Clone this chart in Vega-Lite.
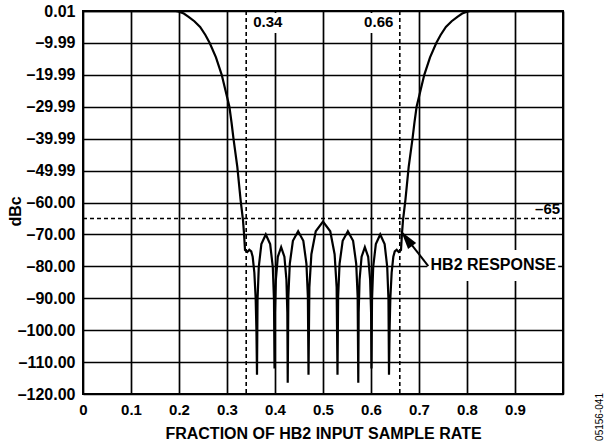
{
  "$schema": "https://vega.github.io/schema/vega-lite/v6.json",
  "width": 480,
  "height": 383,
  "autosize": {"type": "none"},
  "padding": {"left": 83, "top": 11, "right": 44, "bottom": 51},
  "background": "white",
  "config": {
    "font": "Liberation Sans",
    "view": {"stroke": "black", "strokeWidth": 2},
    "axis": {
      "grid": true,
      "gridColor": "black",
      "gridWidth": 1.7,
      "gridOpacity": 1,
      "domain": false,
      "ticks": false,
      "labelFont": "Liberation Sans",
      "labelFontWeight": "bold",
      "labelFontSize": 15,
      "labelColor": "black",
      "labelPadding": 8,
      "labelOverlap": false,
      "labelBound": false,
      "labelFlush": false,
      "titleFont": "Liberation Sans",
      "titleFontWeight": "bold",
      "titleFontSize": 16,
      "titleColor": "black"
    }
  },
  "datasets": {
    "curve": [
      {"x": 0, "y": 0}, {"x": 0.19, "y": 0}, {"x": 0.2, "y": -0.2}, {"x": 0.21, "y": -0.8},
      {"x": 0.22, "y": -1.8}, {"x": 0.232, "y": -3.2}, {"x": 0.244, "y": -5}, {"x": 0.255, "y": -7.5},
      {"x": 0.264, "y": -10}, {"x": 0.277, "y": -14.5}, {"x": 0.289, "y": -20}, {"x": 0.297, "y": -25},
      {"x": 0.305, "y": -30}, {"x": 0.3095, "y": -35}, {"x": 0.3135, "y": -40}, {"x": 0.3215, "y": -48.8},
      {"x": 0.3283, "y": -59.2}, {"x": 0.3333, "y": -65.5}, {"x": 0.3354, "y": -69.6}, {"x": 0.3375, "y": -74.9},
      {"x": 0.3423, "y": -75.5}, {"x": 0.3465, "y": -74.8}, {"x": 0.3505, "y": -75.3}, {"x": 0.3535, "y": -77},
      {"x": 0.357, "y": -82}, {"x": 0.3597, "y": -90}, {"x": 0.3613, "y": -100}, {"x": 0.3625, "y": -114},
      {"x": 0.3636, "y": -90.5}, {"x": 0.3662, "y": -80.2}, {"x": 0.3716, "y": -73}, {"x": 0.3808, "y": -70},
      {"x": 0.3899, "y": -73}, {"x": 0.3954, "y": -80.2}, {"x": 0.3979, "y": -90.5}, {"x": 0.399, "y": -112},
      {"x": 0.3998, "y": -94.5}, {"x": 0.4018, "y": -84.2}, {"x": 0.4059, "y": -77}, {"x": 0.4128, "y": -74},
      {"x": 0.4196, "y": -77}, {"x": 0.4238, "y": -84.2}, {"x": 0.4257, "y": -94.5}, {"x": 0.4265, "y": -116.5},
      {"x": 0.4278, "y": -89.5}, {"x": 0.4308, "y": -79.2}, {"x": 0.4373, "y": -72}, {"x": 0.4482, "y": -69},
      {"x": 0.459, "y": -72}, {"x": 0.4655, "y": -79.2}, {"x": 0.4685, "y": -89.5}, {"x": 0.4698, "y": -114},
      {"x": 0.4716, "y": -86.5}, {"x": 0.4758, "y": -76.2}, {"x": 0.4849, "y": -69}, {"x": 0.5, "y": -66},
      {"x": 0.5151, "y": -69}, {"x": 0.5242, "y": -76.2}, {"x": 0.5284, "y": -86.5}, {"x": 0.5302, "y": -114},
      {"x": 0.5315, "y": -89.5}, {"x": 0.5345, "y": -79.2}, {"x": 0.541, "y": -72}, {"x": 0.5518, "y": -69},
      {"x": 0.5627, "y": -72}, {"x": 0.5692, "y": -79.2}, {"x": 0.5722, "y": -89.5}, {"x": 0.5735, "y": -116.5},
      {"x": 0.5743, "y": -94.5}, {"x": 0.5762, "y": -84.2}, {"x": 0.5804, "y": -77}, {"x": 0.5872, "y": -74},
      {"x": 0.5941, "y": -77}, {"x": 0.5982, "y": -84.2}, {"x": 0.6002, "y": -94.5}, {"x": 0.601, "y": -112},
      {"x": 0.6021, "y": -90.5}, {"x": 0.6046, "y": -80.2}, {"x": 0.6101, "y": -73}, {"x": 0.6192, "y": -70},
      {"x": 0.6284, "y": -73}, {"x": 0.6338, "y": -80.2}, {"x": 0.6364, "y": -90.5}, {"x": 0.6375, "y": -114},
      {"x": 0.6387, "y": -100}, {"x": 0.6403, "y": -90}, {"x": 0.643, "y": -82}, {"x": 0.6465, "y": -77},
      {"x": 0.6495, "y": -75.3}, {"x": 0.6535, "y": -74.8}, {"x": 0.6577, "y": -75.5}, {"x": 0.6625, "y": -74.9},
      {"x": 0.6646, "y": -69.6}, {"x": 0.6667, "y": -65.5}, {"x": 0.6717, "y": -59.2}, {"x": 0.6785, "y": -48.8},
      {"x": 0.6865, "y": -40}, {"x": 0.6905, "y": -35}, {"x": 0.695, "y": -30}, {"x": 0.703, "y": -25},
      {"x": 0.711, "y": -20}, {"x": 0.723, "y": -14.5}, {"x": 0.736, "y": -10}, {"x": 0.745, "y": -7.5},
      {"x": 0.756, "y": -5}, {"x": 0.768, "y": -3.2}, {"x": 0.78, "y": -1.8}, {"x": 0.79, "y": -0.8},
      {"x": 0.8, "y": -0.2}, {"x": 0.81, "y": 0}, {"x": 1, "y": 0}
    ],
    "hline": [{"y": -65}],
    "vlines": [{"x": 0.34}, {"x": 0.66}],
    "boxes": [
      {"x": 0.3465, "x2": 0.4256, "y": -0.6, "y2": -6.9},
      {"x": 0.5746, "x2": 0.6527, "y": -0.6, "y2": -6.9},
      {"x": 0.717, "x2": 0.99, "y": -74.9, "y2": -84.6}
    ],
    "leftlabels": [
      {"x": 0.3545, "y": -5, "label": "0.34"},
      {"x": 0.724, "y": -81.1, "label": "HB2 RESPONSE"}
    ],
    "rightlabels": [
      {"x": 0.6465, "y": -5, "label": "0.66"},
      {"x": 0.994, "y": -63.6, "label": "–65"}
    ],
    "arrow": [{"x": 0.7194, "y": -79.9, "x2": 0.6631, "y2": -69.1}],
    "arrowhead": [{"x": 0.6631, "y": -69.1}],
    "code": [{"x": 1.078, "y": -127.2, "label": "05156-041"}]
  },
  "layer": [
    {
      "data": {"name": "curve"},
      "mark": {"type": "line", "color": "black", "strokeWidth": 2.2},
      "encoding": {
        "x": {
          "field": "x", "type": "quantitative",
          "scale": {"domain": [0, 1], "nice": false, "zero": false},
          "axis": {
            "title": "FRACTION OF HB2 INPUT SAMPLE RATE",
            "values": [0, 0.1, 0.2, 0.3, 0.4, 0.5, 0.6, 0.7, 0.8, 0.9, 1],
            "tickCount": 20,
            "labelExpr": "datum.value > 0.95 ? '' : format(datum.value, '.1~f')",
            "titleX": 240, "titleY": 44, "titleBaseline": "alphabetic", "titleAnchor": "middle", "titleAlign": "center"
          }
        },
        "y": {
          "field": "y", "type": "quantitative",
          "scale": {"domain": [-120, 0.01], "nice": false, "zero": false},
          "axis": {
            "title": "dBc",
            "values": [0.01, -9.99, -19.99, -29.99, -39.99, -49.99, -60, -70, -80, -90, -100, -110, -120],
            "tickCount": 20,
            "labelExpr": "datum.value < 0 ? '–' + format(-datum.value, '.2f') : format(datum.value, '.2f')",
            "labelFontSize": 16,
            "titleX": -68, "titleY": 200, "titleAngle": -90, "titleBaseline": "middle", "titleAlign": "center"
          }
        }
      }
    },
    {
      "data": {"name": "hline"},
      "mark": {"type": "rule", "color": "black", "strokeWidth": 1.6, "strokeDash": [4, 3]},
      "encoding": {"y": {"field": "y", "type": "quantitative"}}
    },
    {
      "data": {"name": "vlines"},
      "mark": {"type": "rule", "color": "black", "strokeWidth": 1.6, "strokeDash": [4, 3]},
      "encoding": {"x": {"field": "x", "type": "quantitative"}}
    },
    {
      "data": {"name": "boxes"},
      "mark": {"type": "rect", "fill": "white", "stroke": null},
      "encoding": {
        "x": {"field": "x", "type": "quantitative"},
        "x2": {"field": "x2"},
        "y": {"field": "y", "type": "quantitative"},
        "y2": {"field": "y2"}
      }
    },
    {
      "data": {"name": "leftlabels"},
      "mark": {"type": "text", "align": "left", "baseline": "alphabetic", "font": "Liberation Sans", "fontWeight": "bold", "fontSize": 15, "color": "black"},
      "encoding": {
        "x": {"field": "x", "type": "quantitative"},
        "y": {"field": "y", "type": "quantitative"},
        "text": {"field": "label"},
        "size": {"condition": {"test": "datum.label == 'HB2 RESPONSE'", "value": 16}, "value": 15}
      }
    },
    {
      "data": {"name": "rightlabels"},
      "mark": {"type": "text", "align": "right", "baseline": "alphabetic", "font": "Liberation Sans", "fontWeight": "bold", "fontSize": 15, "color": "black"},
      "encoding": {
        "x": {"field": "x", "type": "quantitative"},
        "y": {"field": "y", "type": "quantitative"},
        "text": {"field": "label"}
      }
    },
    {
      "data": {"name": "arrow"},
      "mark": {"type": "rule", "color": "black", "strokeWidth": 2},
      "encoding": {
        "x": {"field": "x", "type": "quantitative"},
        "y": {"field": "y", "type": "quantitative"},
        "x2": {"field": "x2"},
        "y2": {"field": "y2"}
      }
    },
    {
      "data": {"name": "arrowhead"},
      "mark": {"type": "point", "shape": "M0,0 L-0.28,1 L0.28,1 Z", "size": 1296, "angle": 323, "filled": true, "color": "black", "opacity": 1},
      "encoding": {
        "x": {"field": "x", "type": "quantitative"},
        "y": {"field": "y", "type": "quantitative"}
      }
    },
    {
      "data": {"name": "code"},
      "mark": {"type": "text", "angle": 270, "align": "center", "baseline": "middle", "font": "Liberation Sans", "fontSize": 10, "color": "black"},
      "encoding": {
        "x": {"field": "x", "type": "quantitative"},
        "y": {"field": "y", "type": "quantitative"},
        "text": {"field": "label"}
      }
    }
  ]
}
